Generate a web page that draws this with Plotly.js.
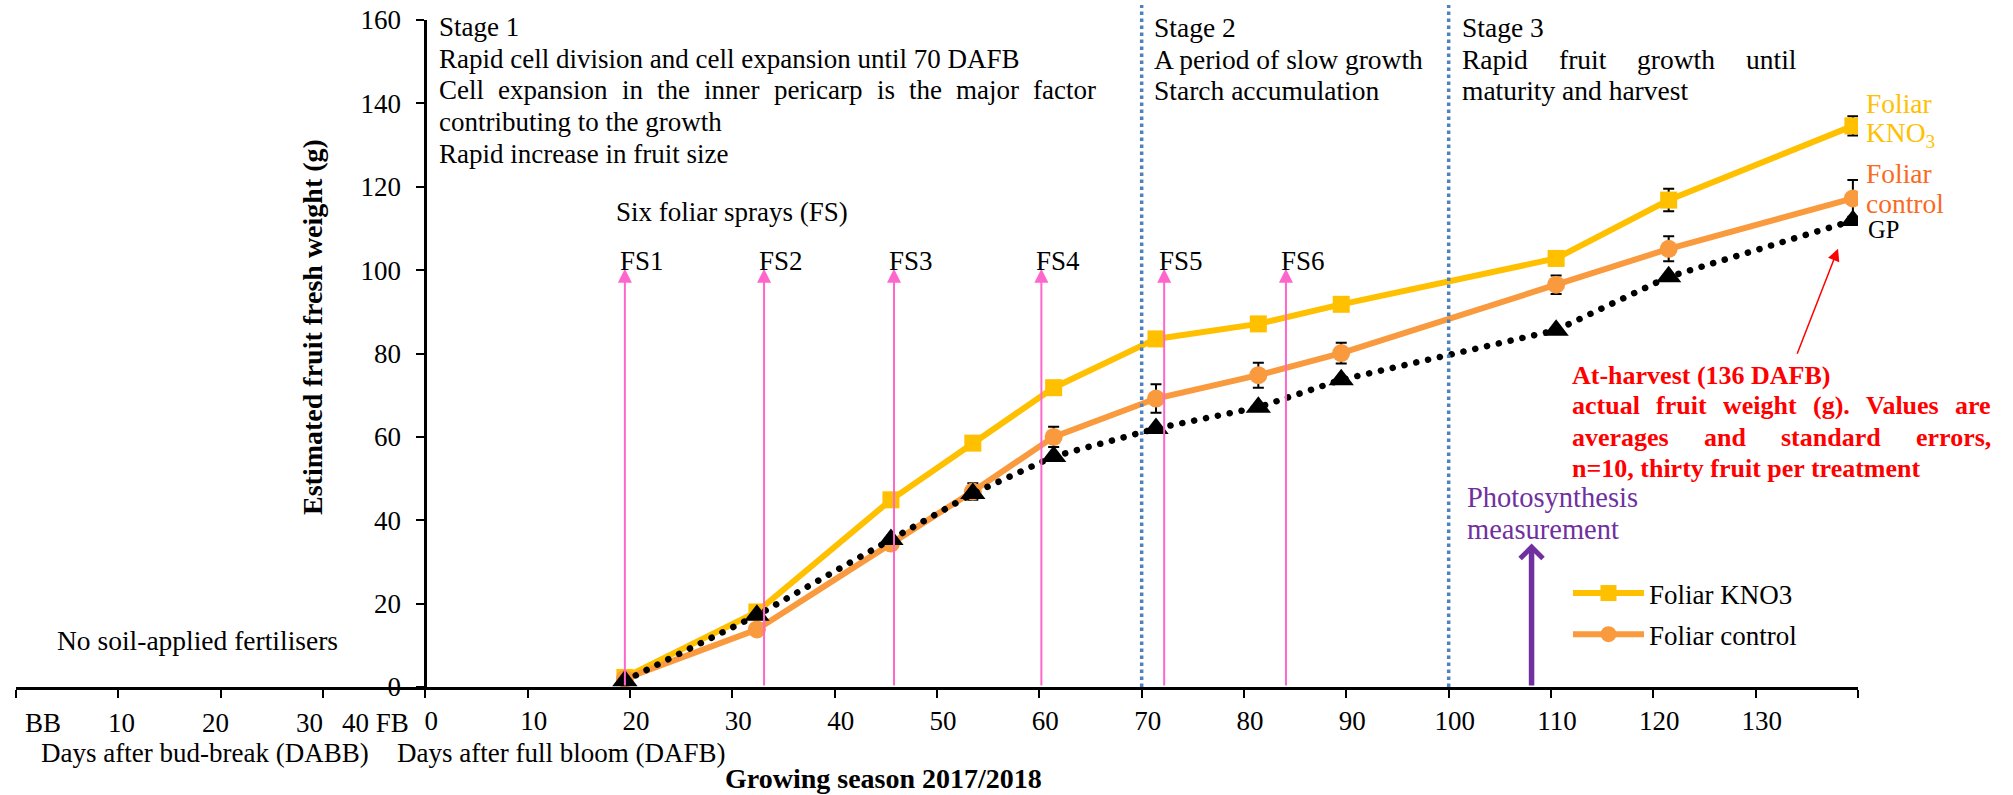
<!DOCTYPE html>
<html>
<head>
<meta charset="utf-8">
<script src="https://cdn.plot.ly/plotly-3.0.1.min.js"></script>
<style>
html, body { margin: 0; padding: 0; background: #ffffff; }
#chart { width: 2013px; height: 795px; }
</style>
</head>
<body>
<div id="chart"></div>
<script>
// ---------------- data ----------------
const days      = [19.5, 32.4, 45.5, 53.5, 61.4, 71.4, 81.4, 89.5, 110.5, 121.5, 139.5];
const kno3      = [2.3, 18.0, 44.9, 58.5, 71.8, 83.5, 87.1, 91.8, 102.8, 116.8, 134.6];
const kno3Se    = [0, 0, 0, 0, 0, 0, 0, 0, 0, 2.7, 2.3];
const control   = [2.0, 13.8, 34.4, 46.9, 60.0, 69.2, 74.8, 80.1, 96.5, 105.1, 117.2];
const controlSe = [0, 0, 0, 2.0, 2.4, 3.4, 3.0, 2.5, 2.2, 3.0, 4.4];
const gp        = [1.5, 17.2, 35.4, 46.4, 55.3, 62.0, 67.1, 73.7, 85.6, 98.4, 111.9];

const sprayDays   = [19.5, 33.1, 45.8, 60.2, 72.2, 84.1];
const sprayLabels = ['FS1', 'FS2', 'FS3', 'FS4', 'FS5', 'FS6'];
const sprayTop    = 100.3;
const stageBounds = [70, 100];
const photoDay    = 108.1;
const photoTop    = 34.4;

const xTickVals = [-40, -30, -20, -10, 0, 10, 20, 30, 40, 50, 60, 70, 80, 90, 100, 110, 120, 130, 140];
const xTickText = ['', '', '', '', '0', '10', '20', '30', '40', '50', '60', '70', '80', '90', '100', '110', '120', '130', ''];
const dabbTickText = ['BB', '10', '20', '30', '40 FB'];
const yTickVals = [0, 20, 40, 60, 80, 100, 120, 140, 160];

const stage1Lines = ['Stage 1', 'Rapid cell division and cell expansion until 70 DAFB',
  'Cell expansion in the inner pericarp is the major factor', 'contributing to the growth', 'Rapid increase in fruit size'];
const stage2Lines = ['Stage 2', 'A period of slow growth', 'Starch accumulation'];
const stage3Lines = ['Stage 3', 'Rapid fruit growth until', 'maturity and harvest'];
const harvestLines = ['At-harvest (136 DAFB)', 'actual fruit weight (g). Values are',
  'averages and standard errors,', 'n=10, thirty fruit per treatment'];
const photoLines = ['Photosynthesis', 'measurement'];

// ---------------- geometry helpers ----------------
const W = 2013, H = 795;
const L = 16, R = 1858, T = 20, B = 687;
const px = x => (x - L) / (R - L);
const py = y => (B - y) / (B - T);
const FONT = 'Liberation Serif';
const annotations = [];

function txt(text, x, y, size, color, extra) {
  annotations.push(Object.assign({
    text: text, x: px(x), y: py(y), xref: 'paper', yref: 'paper',
    xanchor: 'left', yanchor: 'middle', showarrow: false, borderpad: 0,
    font: { family: FONT, size: size, color: color }
  }, extra || {}));
}
const ctx = document.createElement('canvas').getContext('2d');
function justify(line, x0, x1, y, size, color, bold) {
  const words = line.split(' ');
  ctx.font = (bold ? 'bold ' : '') + size + 'px "' + FONT + '"';
  const widths = words.map(w => ctx.measureText(w).width);
  const gap = (x1 - x0 - widths.reduce((a, b) => a + b, 0)) / (words.length - 1);
  let x = x0;
  words.forEach((w, i) => {
    txt(bold ? '<b>' + w + '</b>' : w, x, y, size, color);
    x += widths[i] + gap;
  });
}
function block(lines, x0, y0, step, size, color, bold, justifyIdx, x1) {
  lines.forEach((ln, i) => {
    const y = y0 + i * step;
    if (justifyIdx.indexOf(i) >= 0) justify(ln, x0, x1, y, size, color, bold);
    else txt(bold ? '<b>' + ln + '</b>' : ln, x0, y, size, color);
  });
}

// stage texts
block(stage1Lines, 438, 27.5, 31.5, 27, '#000', false, [2], 1095);
block(stage2Lines, 1153, 27.5, 31.5, 27.5, '#000', false, [], 0);
block(stage3Lines, 1461, 27.5, 31.5, 27.5, '#000', false, [1], 1795);
block(harvestLines, 1571, 375, 31, 26, '#FF0000', true, [1, 2], 1990);
block(photoLines, 1466, 497.5, 31.5, 28.5, '#7030A0', false, [], 0);

txt('Six foliar sprays (FS)', 615, 212, 27, '#000');
txt('No soil-applied fertilisers', 56, 640, 27.5, '#000');
txt('Days after bud-break (DABB)', 40, 753, 27, '#000');
txt('Days after full bloom (DAFB)', 396, 753, 27, '#000');
txt('<b>Growing season 2017/2018</b>', 724, 778.5, 28, '#000');
txt('<b>Estimated fruit fresh weight (g)</b>', 312, 327, 28, '#000',
    { textangle: -90, xanchor: 'center', yanchor: 'middle' });

// end-of-line series labels
txt('Foliar', 1865, 104, 27.5, '#FFC000');
txt('KNO<sub>3</sub>', 1865, 134, 27.5, '#FFC000');
txt('Foliar', 1865, 173.5, 27.5, '#FA6A1E');
txt('control', 1865, 203, 27.5, '#FA6A1E');
txt('GP', 1867, 229, 24.5, '#000');

// days-after-bud-break tick labels (manually placed in the original)
const dabbCenters = [43, 121, 215.5, 309, 375];
dabbTickText.forEach((t, i) => txt(t, dabbCenters[i], 723, 27, '#000', { xanchor: 'center' }));

// foliar spray arrows + labels
sprayDays.forEach((d, i) => {
  annotations.push({
    x: d, y: sprayTop, ax: d, ay: 0, xref: 'x', yref: 'y', axref: 'x', ayref: 'y',
    text: '', showarrow: true, arrowhead: 2, arrowsize: 1.4, arrowwidth: 2,
    arrowcolor: '#FF66CC', standoff: 0, startstandoff: 0
  });
  annotations.push({
    x: d, y: py(261.3), xref: 'x', yref: 'paper', xanchor: 'left', yanchor: 'middle',
    xshift: -6, text: sprayLabels[i], showarrow: false, borderpad: 0,
    font: { family: FONT, size: 27, color: '#000' }
  });
});

// photosynthesis arrow
annotations.push({
  x: photoDay, y: photoTop, ax: photoDay, ay: 0, xref: 'x', yref: 'y', axref: 'x', ayref: 'y',
  text: '', showarrow: true, arrowhead: 4, arrowsize: 0.8, arrowwidth: 5.5,
  arrowcolor: '#7030A0', standoff: 0
});
// at-harvest arrow
annotations.push({
  x: 138.05, y: 105.1, ax: 134.0, ay: 79.6, xref: 'x', yref: 'y', axref: 'x', ayref: 'y',
  text: '', showarrow: true, arrowhead: 2, arrowsize: 1.6, arrowwidth: 1.5,
  arrowcolor: '#FF0000', standoff: 0
});

const shapes = stageBounds.map(d => ({
  type: 'line', xref: 'x', yref: 'paper', x0: d, x1: d, y0: 0, y1: py(5),
  line: { color: '#4F81BD', width: 3.5, dash: '3.5px,3.5px' }
}));

// ---------------- traces ----------------
const data = [
  {
    x: days, y: kno3, name: 'Foliar KNO3', type: 'scatter', mode: 'lines+markers',
    legendgroup: 'a',
    line: { color: '#FFC000', width: 6 },
    marker: { symbol: 'square', size: 17, color: '#FFC000' },
    error_y: { type: 'data', array: kno3Se, visible: true, color: '#000', thickness: 2, width: 5.5 }
  },
  {
    x: days, y: control, name: 'Foliar control', type: 'scatter', mode: 'lines+markers',
    legendgroup: 'b',
    line: { color: '#F99A3E', width: 6 },
    marker: { symbol: 'circle', size: 18, color: '#F99A3E' },
    error_y: { type: 'data', array: controlSe, visible: true, color: '#000', thickness: 2, width: 5.5 }
  },
  {
    x: days, y: gp, name: 'GP', type: 'scatter', mode: 'lines+markers', showlegend: false,
    line: { color: '#000', width: 6.5, dash: '0.1px,12px' },
    marker: { symbol: 'triangle-up', size: 22, color: '#000' }
  }
];

const layout = {
  width: W, height: H,
  margin: { l: L, r: W - R, t: T, b: H - B, pad: 0 },
  paper_bgcolor: '#ffffff', plot_bgcolor: 'rgba(0,0,0,0)',
  font: { family: FONT, size: 27, color: '#000' },
  xaxis: {
    range: [-40, 140], tickmode: 'array', tickvals: xTickVals, ticktext: xTickText,
    showline: true, linecolor: '#000', linewidth: 2.5, ticks: 'outside', ticklen: 8,
    tickwidth: 2, tickcolor: '#000', showgrid: false, zeroline: false,
    ticklabelshift: 6, tickfont: { family: FONT, size: 27, color: '#000' }, fixedrange: true
  },
  yaxis: {
    range: [0, 160], anchor: 'free', position: 40 / 180, tickmode: 'array', tickvals: yTickVals,
    showline: true, linecolor: '#000', linewidth: 2.5, ticks: 'outside', ticklen: 8,
    tickwidth: 2, tickcolor: '#000', showgrid: false, zeroline: false,
    ticklabelstandoff: 10, tickfont: { family: FONT, size: 27, color: '#000' }, fixedrange: true
  },
  showlegend: true,
  legend: {
    x: px(1568), y: py(569), xanchor: 'left', yanchor: 'top',
    bgcolor: 'rgba(0,0,0,0)', borderwidth: 0, itemwidth: 71, tracegroupgap: 3,
    font: { family: FONT, size: 27, color: '#000' }
  },
  shapes: shapes,
  annotations: annotations
};

Plotly.newPlot('chart', data, layout, { staticPlot: true, displayModeBar: false }).then(gd => {
  const traces = gd.querySelectorAll('.scatterlayer .trace');
  if (traces[2]) {
    const p = traces[2].querySelector('path.js-line');
    if (p) p.style.strokeLinecap = 'round';
  }
});
</script>
</body>
</html>
